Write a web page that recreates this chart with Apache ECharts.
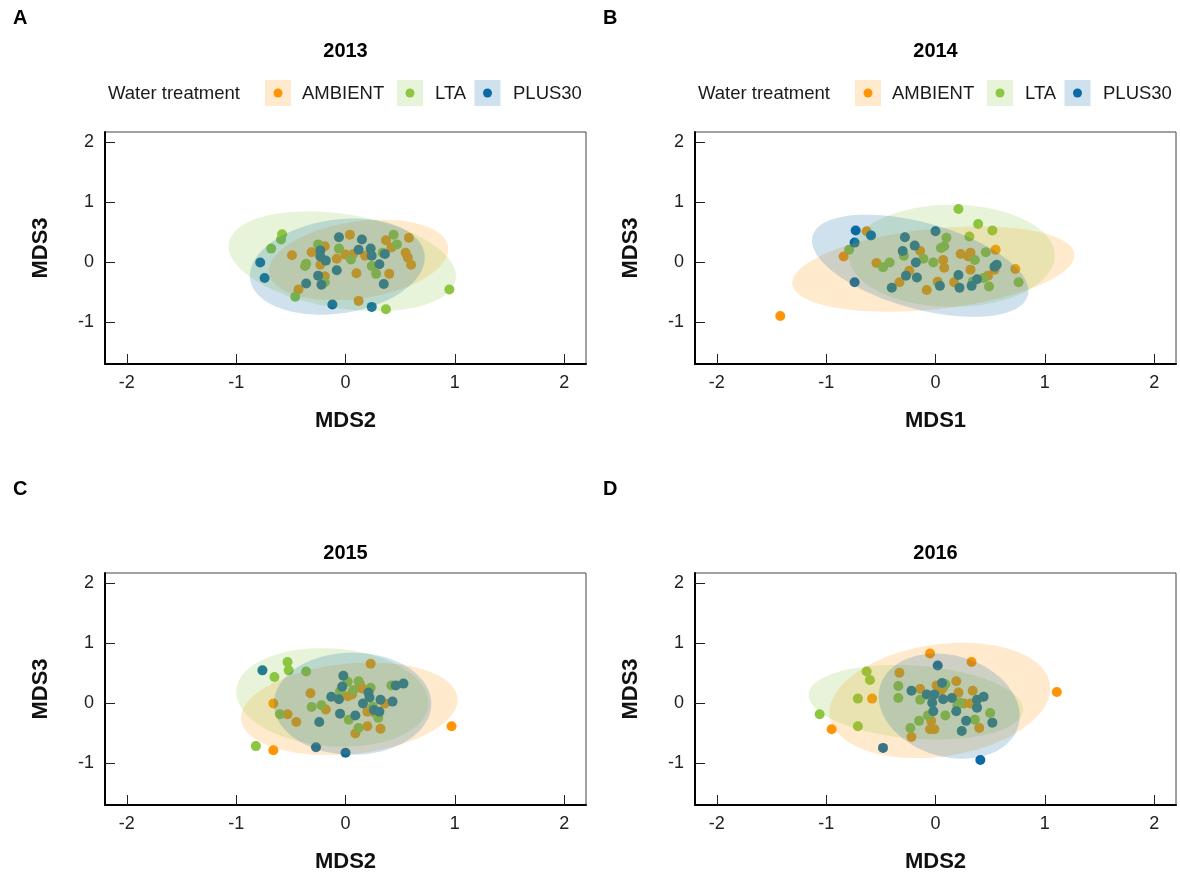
<!DOCTYPE html>
<html>
<head>
<meta charset="utf-8">
<script src="https://cdn.jsdelivr.net/npm/echarts@6/dist/echarts.min.js"></script>
<style>
html,body{margin:0;padding:0;background:#fff;}
#chart{width:1180px;height:877px;}
</style>
</head>
<body>
<div id="chart"></div>
<script>
// ---------- data ----------
const GROUPS = ['AMBIENT', 'LTA', 'PLUS30'];
const YEARS = ['2013', '2014', '2015', '2016'];
const LETTERS = ['A', 'B', 'C', 'D'];
const X_NAMES = ['MDS2', 'MDS1', 'MDS2', 'MDS2'];
const Y_NAME = 'MDS3';
const LEGEND_TITLE = 'Water treatment';
const X_TICKS = [-2, -1, 0, 1, 2];
const Y_TICKS = [-1, 0, 1, 2];

// 2013
const AMBIENT_2013 = [[-0.49,0.12],[-0.43,-0.45],[-0.31,0.17],[-0.19,0.27],[-0.23,-0.04],[-0.19,-0.23],[-0.08,0.06],[0.04,0.46],[0.0,0.13],[0.07,0.14],[0.1,-0.18],[0.12,-0.64],[0.18,0.11],[0.4,-0.19],[0.37,0.37],[0.42,0.25],[0.58,0.41],[0.55,0.16],[0.57,0.08],[0.6,-0.04]];
const LTA_2013 = [[-0.58,0.47],[-0.59,0.38],[-0.68,0.23],[-0.36,-0.02],[-0.37,-0.06],[-0.46,-0.57],[-0.25,0.3],[-0.19,-0.33],[-0.06,0.23],[0.05,0.05],[0.24,-0.06],[0.28,-0.19],[0.37,-0.78],[0.44,0.46],[0.47,0.3],[0.95,-0.45],[0.34,0.16]];
const PLUS30_2013 = [[-0.78,0.0],[-0.74,-0.26],[-0.36,-0.35],[-0.23,0.2],[-0.23,0.1],[-0.18,0.03],[-0.25,-0.22],[-0.22,-0.37],[-0.12,-0.7],[-0.08,-0.13],[-0.06,0.42],[0.15,0.38],[0.12,0.21],[0.23,0.23],[0.24,0.11],[0.31,-0.03],[0.24,-0.74],[0.35,-0.36],[0.36,0.14]];
// ellipse [centre x, centre y, half width, half height, y-offset at right end]
const ELLIPSES_2013 = [[0.12,0.04,0.82,0.67,0.18],[-0.03,0.02,1.04,0.83,-0.25],[-0.075,-0.07,0.8,0.8,0.15]];

// 2014
const AMBIENT_2014 = [[-1.42,-0.89],[-0.63,0.52],[-0.84,0.1],[-0.54,-0.01],[-0.14,0.19],[-0.24,-0.14],[-0.33,-0.33],[0.07,0.04],[0.08,-0.09],[0.02,-0.32],[-0.08,-0.46],[0.23,0.14],[0.32,0.16],[0.3,0.1],[0.17,-0.33],[0.32,-0.12],[0.55,0.21],[0.54,-0.12],[0.48,-0.22],[0.73,-0.11]];
const LTA_2014 = [[-0.79,0.21],[-0.42,0.0],[-0.48,-0.08],[-0.29,0.11],[-0.11,0.06],[-0.02,0.0],[0.1,0.41],[0.08,0.27],[0.05,0.24],[0.21,0.89],[0.39,0.64],[0.52,0.53],[0.31,0.43],[0.36,0.04],[0.34,-0.32],[0.46,0.17],[0.49,-0.4],[0.76,-0.33],[0.44,-0.26]];
const PLUS30_2014 = [[-0.73,0.53],[-0.59,0.45],[-0.74,0.33],[-0.74,-0.33],[-0.28,0.42],[-0.3,0.19],[-0.19,0.28],[-0.18,0.0],[-0.27,-0.22],[-0.17,-0.25],[-0.4,-0.42],[0.0,0.52],[0.04,-0.39],[0.21,-0.21],[0.22,-0.42],[0.38,-0.28],[0.33,-0.39],[0.54,-0.07],[0.56,-0.04]];
const ELLIPSES_2014 = [[-0.02,-0.11,1.29,0.71,0.23],[0.15,0.11,0.94,0.85,0.0],[-0.14,-0.055,0.99,0.85,-0.42]];

// 2015
const AMBIENT_2015 = [[-0.66,0.0],[-0.53,-0.18],[-0.45,-0.31],[-0.66,-0.78],[-0.32,0.17],[-0.18,-0.1],[0.23,0.66],[0.13,0.33],[0.02,0.12],[0.06,0.15],[0.36,0.0],[0.24,-0.1],[0.2,-0.14],[0.32,-0.42],[0.2,-0.38],[0.09,-0.5],[0.97,-0.38],[0.15,0.25],[0.27,-0.16]];
const LTA_2015 = [[-0.53,0.69],[-0.52,0.55],[-0.65,0.44],[-0.36,0.53],[-0.6,-0.18],[-0.82,-0.71],[-0.31,-0.06],[-0.22,-0.03],[0.02,0.36],[0.07,0.22],[0.12,0.37],[0.23,0.26],[0.42,0.3],[0.3,-0.24],[0.12,-0.41],[0.03,-0.27],[0.25,-0.05],[-0.05,0.2]];
const PLUS30_2015 = [[-0.76,0.55],[-0.24,-0.31],[-0.27,-0.73],[0.0,-0.82],[-0.05,-0.17],[-0.13,0.11],[-0.06,0.07],[-0.02,0.46],[-0.03,0.28],[0.21,0.18],[0.16,0.0],[0.32,0.06],[0.43,0.03],[0.46,0.3],[0.53,0.33],[0.26,-0.11],[0.31,-0.14],[0.09,-0.2],[0.22,0.1]];
const ELLIPSES_2015 = [[0.035,-0.09,0.99,0.77,0.15],[-0.12,0.1,0.88,0.82,-0.09],[0.065,-0.005,0.72,0.85,0.0]];

// 2016
const AMBIENT_2016 = [[-0.05,0.83],[0.33,0.69],[-0.33,0.51],[-0.58,0.08],[-0.95,-0.43],[1.11,0.19],[-0.14,0.24],[0.01,0.3],[0.19,0.37],[0.05,0.22],[0.21,0.18],[0.34,0.21],[0.26,0.0],[0.32,0.0],[-0.22,-0.56],[-0.04,-0.29],[-0.05,-0.43],[-0.01,-0.43],[0.4,-0.41],[0.07,0.26]];
const LTA_2016 = [[-0.63,0.53],[-0.6,0.39],[-0.34,0.29],[-0.34,0.09],[-0.71,0.08],[-1.06,-0.18],[-0.71,-0.38],[0.09,0.32],[-0.14,0.06],[0.22,0.01],[0.5,-0.16],[0.09,-0.2],[-0.07,-0.2],[-0.15,-0.29],[-0.23,-0.41],[0.36,-0.27],[0.2,-0.03]];
const PLUS30_2016 = [[0.02,0.63],[-0.22,0.21],[-0.48,-0.74],[0.41,-0.94],[-0.08,0.15],[-0.01,0.15],[0.07,0.07],[0.15,0.09],[-0.03,0.01],[-0.02,-0.13],[0.38,0.06],[0.44,0.11],[0.38,-0.07],[0.19,-0.13],[0.28,-0.29],[0.24,-0.46],[0.52,-0.32],[0.06,0.34]];
const ELLIPSES_2016 = [[0.04,0.05,1.01,0.96,0.2],[-0.18,0.02,0.98,0.62,-0.12],[0.125,-0.045,0.645,0.875,-0.165]];

// ---------- styling ----------
const COLORS = ['#FF9505', '#8DC641', '#0B6AA5'];
const FILL_ALPHA = 0.2;
const FONT = "'Liberation Sans', Arial, sans-serif";

function rgba(hex, a) {
  const n = parseInt(hex.slice(1), 16);
  return 'rgba(' + ((n >> 16) & 255) + ',' + ((n >> 8) & 255) + ',' + (n & 255) + ',' + a + ')';
}

const PANELS = [
  { points: [AMBIENT_2013, LTA_2013, PLUS30_2013], ellipses: ELLIPSES_2013 },
  { points: [AMBIENT_2014, LTA_2014, PLUS30_2014], ellipses: ELLIPSES_2014 },
  { points: [AMBIENT_2015, LTA_2015, PLUS30_2015], ellipses: ELLIPSES_2015 },
  { points: [AMBIENT_2016, LTA_2016, PLUS30_2016], ellipses: ELLIPSES_2016 }
];

const GRID_LEFT = [105, 695, 105, 695];
const GRID_TOP = [132, 132, 573, 573];
const GRID_W = 481, GRID_H = 232;
const X_MIN = -2.2, X_MAX = 2.2, Y_MIN = -1.69, Y_MAX = 2.17;

const grids = [], xAxes = [], yAxes = [], series = [], graphics = [];

PANELS.forEach((p, i) => {
  grids.push({
    left: GRID_LEFT[i], top: GRID_TOP[i], width: GRID_W, height: GRID_H,
    show: true, borderColor: '#444', borderWidth: 1, backgroundColor: 'transparent'
  });
  xAxes.push({
    gridIndex: i, type: 'value', min: X_MIN, max: X_MAX,
    name: X_NAMES[i], nameLocation: 'middle', nameGap: 46,
    nameTextStyle: { fontFamily: FONT, fontWeight: 'bold', fontSize: 22, color: '#111' },
    axisLine: { show: true, onZero: false, lineStyle: { color: '#000', width: 2 } },
    axisTick: { show: true, inside: true, length: 10, customValues: X_TICKS, lineStyle: { color: '#222', width: 1 } },
    axisLabel: { customValues: X_TICKS, fontFamily: FONT, fontSize: 18, color: '#222', margin: 10 },
    splitLine: { show: false }
  });
  yAxes.push({
    gridIndex: i, type: 'value', min: Y_MIN, max: Y_MAX,
    name: Y_NAME, nameLocation: 'middle', nameGap: 53,
    nameTextStyle: { fontFamily: FONT, fontWeight: 'bold', fontSize: 22, color: '#111' },
    axisLine: { show: true, onZero: false, lineStyle: { color: '#000', width: 2 } },
    axisTick: { show: true, inside: true, length: 10, customValues: Y_TICKS, lineStyle: { color: '#222', width: 1 } },
    axisLabel: { customValues: Y_TICKS, fontFamily: FONT, fontSize: 18, color: '#222', margin: 11 },
    splitLine: { show: false }
  });
  // points
  GROUPS.forEach((g, k) => {
    series.push({
      type: 'scatter', name: g, xAxisIndex: i, yAxisIndex: i,
      data: p.points[k], symbol: 'circle', symbolSize: 10,
      itemStyle: { color: COLORS[k], opacity: 1 },
      z: 2, silent: true
    });
  });
  // ellipses drawn over the points
  GROUPS.forEach((g, k) => {
    series.push({
      type: 'custom', name: g + ' ellipse', xAxisIndex: i, yAxisIndex: i,
      data: [p.ellipses[k]], z: 3, silent: true,
      encode: { x: 0, y: 1 },
      renderItem: function (params, api) {
        const cx = api.value(0), cy = api.value(1), hx = api.value(2), hy = api.value(3), dy = api.value(4);
        const r = Math.sqrt(Math.max(hy * hy - dy * dy, 0));
        const pts = [];
        const N = 120;
        for (let j = 0; j < N; j++) {
          const t = 2 * Math.PI * j / N;
          pts.push(api.coord([cx + hx * Math.cos(t), cy + dy * Math.cos(t) + r * Math.sin(t)]));
        }
        return { type: 'polygon', shape: { points: pts }, style: { fill: rgba(COLORS[k], FILL_ALPHA), stroke: null } };
      }
    });
  });
  // panel letter and year title
  const ox = (i % 2) * 590;
  const oy = i < 2 ? 0 : 1;
  graphics.push({
    type: 'text', x: 13 + ox, y: oy ? 489 : 18,
    style: { text: LETTERS[i], font: 'bold 20px ' + FONT, fill: '#000', align: 'left', verticalAlign: 'middle' }
  });
  graphics.push({
    type: 'text', x: 345.5 + ox, y: oy ? 553 : 51,
    style: { text: YEARS[i], font: 'bold 20px ' + FONT, fill: '#000', align: 'center', verticalAlign: 'middle' }
  });
  // legends above top panels
  if (!oy) {
    const ly = 94;
    graphics.push({
      type: 'text', x: 108 + ox, y: ly,
      style: { text: LEGEND_TITLE, font: '18.5px ' + FONT, fill: '#1a1a1a', align: 'left', verticalAlign: 'middle' }
    });
    const keyX = [265, 397, 474.5];
    const txtX = [302, 435, 513];
    GROUPS.forEach((g, k) => {
      graphics.push({
        type: 'rect', shape: { x: keyX[k] + ox, y: 80, width: 26, height: 26 },
        style: { fill: rgba(COLORS[k], FILL_ALPHA) }
      });
      graphics.push({
        type: 'circle', shape: { cx: keyX[k] + 13 + ox, cy: 93, r: 4.5 },
        style: { fill: COLORS[k] }
      });
      graphics.push({
        type: 'text', x: txtX[k] + ox, y: ly,
        style: { text: g, font: '18.5px ' + FONT, fill: '#1a1a1a', align: 'left', verticalAlign: 'middle' }
      });
    });
  }
});

const chart = echarts.init(document.getElementById('chart'), null, { renderer: 'canvas' });
chart.setOption({
  animation: false,
  backgroundColor: '#fff',
  grid: grids,
  xAxis: xAxes,
  yAxis: yAxes,
  series: series,
  graphic: graphics
});
</script>
</body>
</html>
